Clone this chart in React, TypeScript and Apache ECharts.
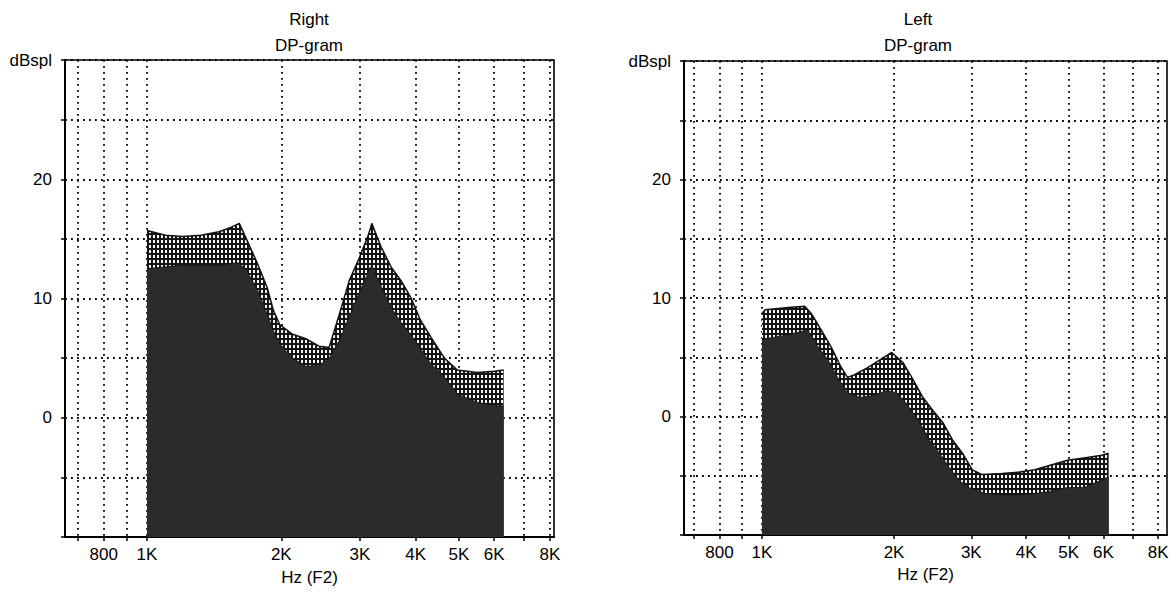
import React, { useEffect, useRef } from 'react';
import * as echarts from 'echarts';

// ---- axis ticks (Hz) ----
const xTickHz = [700, 800, 900, 1000, 2000, 3000, 4000, 5000, 6000, 7000, 8000];
const xLabelHz = [800, 1000, 2000, 3000, 4000, 5000, 6000, 8000];
const yLabelValues = [0, 10, 20];

// ---- Right ear: DP level (top of hatched area) ----
const rightDpHz = [1000, 1100, 1200, 1320, 1450, 1550, 1610, 1670, 1770, 1860, 1920, 1985, 2120, 2280, 2430, 2560, 2700, 2840, 2990, 3140, 3190, 3350, 3530, 3710, 3900, 4100, 4320, 4640, 4960, 5500, 6000, 6300];
const rightDpDb = [15.7, 15.3, 15.2, 15.3, 15.6, 16.0, 16.3, 15.0, 12.9, 10.9, 9.0, 7.8, 7.0, 6.6, 6.0, 5.9, 8.7, 11.5, 13.4, 15.4, 16.3, 14.3, 12.6, 11.5, 10.1, 8.2, 6.8, 5.0, 4.0, 3.8, 3.9, 4.0];
// ---- Right ear: noise floor (top of dark area) ----
const rightNfHz = [1000, 1200, 1450, 1600, 1670, 1770, 1860, 1920, 1985, 2120, 2280, 2430, 2560, 2700, 2840, 2990, 3140, 3190, 3350, 3530, 3710, 3900, 4100, 4320, 4640, 4960, 5500, 6000, 6300];
const rightNfDb = [12.5, 12.8, 12.8, 13.0, 12.4, 10.7, 8.7, 7.3, 6.2, 5.0, 4.3, 4.4, 5.0, 6.5, 8.5, 10.5, 12.3, 12.8, 11.0, 9.2, 8.0, 7.0, 5.8, 4.6, 3.4, 2.0, 1.3, 1.0, 1.0];

// ---- Left ear: DP level ----
const leftDpHz = [1000, 1017, 1148, 1251, 1295, 1364, 1436, 1513, 1566, 1621, 1737, 1861, 1976, 2100, 2211, 2328, 2452, 2583, 2720, 2864, 3016, 3177, 3523, 3840, 4184, 4560, 4970, 5417, 5905, 6169];
const leftDpDb = [8.7, 9.0, 9.2, 9.3, 8.7, 7.3, 5.9, 4.2, 3.3, 3.5, 4.1, 4.8, 5.4, 4.5, 3.1, 1.6, 0.5, -0.5, -2.0, -3.1, -4.5, -4.9, -4.8, -4.7, -4.5, -4.1, -3.7, -3.5, -3.3, -3.1];
// ---- Left ear: noise floor ----
const leftNfHz = [1000, 1148, 1273, 1341, 1413, 1487, 1566, 1677, 1798, 1926, 2028, 2135, 2288, 2410, 2539, 2673, 2815, 2964, 3233, 3523, 3840, 4184, 4560, 4970, 5417, 5905, 6169];
const leftNfDb = [6.5, 6.9, 7.3, 5.9, 4.8, 3.3, 2.0, 1.6, 1.8, 2.2, 2.0, 1.1, -0.5, -2.0, -3.1, -4.3, -5.4, -6.0, -6.5, -6.6, -6.6, -6.5, -6.3, -6.0, -6.0, -5.4, -5.1];

const FONT = '"Liberation Sans", Arial, sans-serif';
const lg = (v: number) => Math.log10(v);
const pts = (hz: number[], db: number[]) => hz.map((h, i) => [lg(h), db[i]]);
const fmtHz = (v: number) => {
  const hz = Math.round(Math.pow(10, v) / 10) * 10;
  return hz >= 1000 ? `${Math.round(hz / 1000)}K` : String(hz);
};

function makeHatch() {
  const c = document.createElement('canvas');
  c.width = 4;
  c.height = 5;
  const ctx = c.getContext('2d')!;
  ctx.fillStyle = '#151515';
  ctx.fillRect(0, 0, 4, 5);
  ctx.fillStyle = '#f6f6f6';
  ctx.fillRect(1, 0, 2, 3);
  return c;
}

export default function App() {
  const ref = useRef<HTMLDivElement>(null);
  useEffect(() => {
    document.body.style.margin = '0';
    const chart = echarts.init(ref.current!, undefined, { renderer: 'svg' });
    const hatch = makeHatch();
    const hatchColor: any = { image: hatch, repeat: 'repeat', imageWidth: 4, imageHeight: 5 };
    const grids = [
      { left: 65, top: 60, width: 489, height: 477, min: lg(655), max: lg(8170), cx: 309, gap: 32 },
      { left: 684, top: 61, width: 483, height: 474, min: lg(664), max: lg(8380), cx: 918, gap: 28 },
    ];
    const dotted = { color: '#000', width: 1.8, type: [1.8, 4.2] as any };
    const option: any = {
      animation: false,
      backgroundColor: '#fff',
      textStyle: { fontFamily: FONT },
      grid: grids.map((g) => ({
        left: g.left, top: g.top, width: g.width, height: g.height,
        show: true, borderColor: '#000', borderWidth: 1.6, backgroundColor: 'transparent',
      })),
      xAxis: grids.map((g, i) => ({
        type: 'value', gridIndex: i, min: g.min, max: g.max,
        name: 'Hz (F2)', nameLocation: 'middle', nameGap: g.gap,
        nameTextStyle: { fontSize: 17, color: '#000', fontFamily: FONT },
        axisLine: { show: true, onZero: false, lineStyle: { color: '#000', width: 2 } },
        axisTick: { show: true, length: 4, customValues: xTickHz.map(lg), lineStyle: { color: '#000', width: 1.5 } },
        axisLabel: { show: true, customValues: xLabelHz.map(lg), formatter: fmtHz, fontSize: 17, color: '#000', margin: 9, fontFamily: FONT },
        splitLine: { show: true, lineStyle: dotted },
      })),
      yAxis: grids.map((g, i) => ({
        type: 'value', gridIndex: i, min: -10, max: 30, interval: 5,
        axisLine: { show: true, lineStyle: { color: '#000', width: 2 } },
        axisTick: { show: true, length: 4, lineStyle: { color: '#000', width: 1.5 } },
        axisLabel: {
          fontSize: 17, color: '#000', margin: 13, fontFamily: FONT, showMinLabel: true, showMaxLabel: true,
          formatter: (v: number) => (v === 30 ? 'dBspl' : yLabelValues.includes(v) ? String(v) : ''),
        },
        splitLine: { show: true, lineStyle: dotted },
      })),
      series: [
        { data: pts(rightDpHz, rightDpDb), idx: 0, hatch: true },
        { data: pts(rightNfHz, rightNfDb), idx: 0, hatch: false },
        { data: pts(leftDpHz, leftDpDb), idx: 1, hatch: true },
        { data: pts(leftNfHz, leftNfDb), idx: 1, hatch: false },
      ].map((s) => ({
        type: 'line', xAxisIndex: s.idx, yAxisIndex: s.idx, data: s.data,
        showSymbol: false, symbol: 'none',
        lineStyle: { color: '#111', width: s.hatch ? 1.5 : 0.8 },
        areaStyle: { origin: 'start', color: s.hatch ? hatchColor : '#2b2b2b', opacity: 1 },
        z: s.hatch ? 3 : 4,
      })),
      graphic: [
        ...grids.flatMap((g, i) => [
          { type: 'text', x: g.cx, y: 19, style: { text: i === 0 ? 'Right' : 'Left', fill: '#000', font: `17px ${FONT}`, textAlign: 'center', textVerticalAlign: 'middle' } },
          { type: 'text', x: g.cx, y: 45, style: { text: 'DP-gram', fill: '#000', font: `17px ${FONT}`, textAlign: 'center', textVerticalAlign: 'middle' } },
        ]),
      ],
    };
    chart.setOption(option);
    return () => chart.dispose();
  }, []);
  return <div ref={ref} style={{ position: 'fixed', left: 0, top: 0, width: 1172, height: 594 }} />;
}
